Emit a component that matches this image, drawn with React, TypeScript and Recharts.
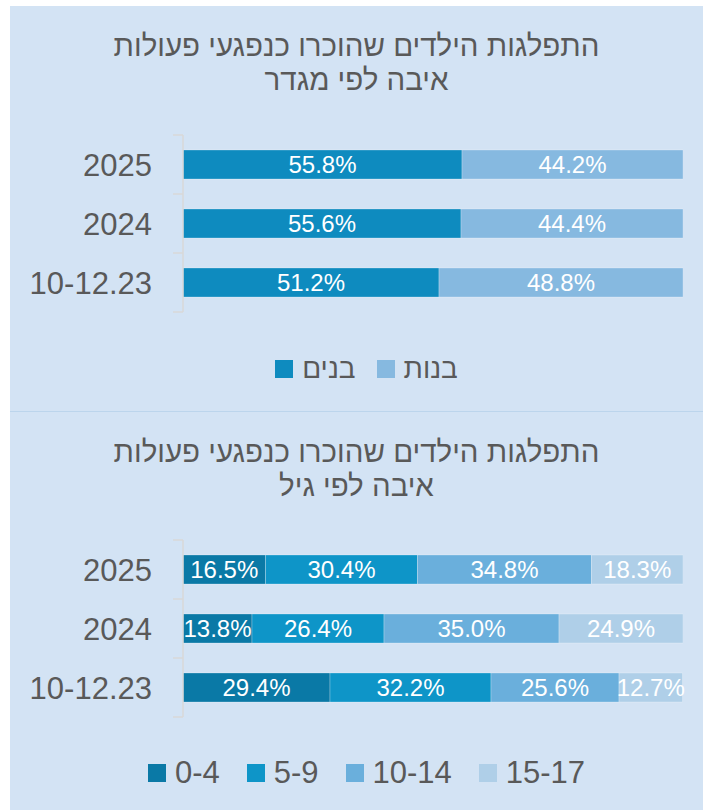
import React from 'react';
import { BarChart, Bar, XAxis, YAxis, LabelList } from 'recharts';

// ---------- Data ----------
const periods = ['2025', '2024', '10-12.23'];

const genderTitle = ['התפלגות הילדים שהוכרו כנפגעי פעולות', 'איבה לפי מגדר'];
const boysShare = [55.8, 55.6, 51.2];
const girlsShare = [44.2, 44.4, 48.8];
const genderNames = ['בנים', 'בנות'];

const ageTitle = ['התפלגות הילדים שהוכרו כנפגעי פעולות', 'איבה לפי גיל'];
const age0to4 = [16.5, 13.8, 29.4];
const age5to9 = [30.4, 26.4, 32.2];
const age10to14 = [34.8, 35.0, 25.6];
const age15to17 = [18.3, 24.9, 12.7];
const ageNames = ['0-4', '5-9', '10-14', '15-17'];

// ---------- Styles ----------
const FONT = '"Liberation Sans", Arial, sans-serif';
const BG = '#d3e3f4';
const TEXT = '#595959';
const AXIS = '#d9d9d9';
const TICK_SIZE = 10;
const TICK_MARGIN = 21;

const genderColors = ['#0e8bbf', '#86b9e0'];
const ageColors = ['#0a79a6', '#0e95c8', '#6aafdc', '#afcfe8'];

const genderData = periods.map((p, i) => ({ period: p, s0: boysShare[i], s1: girlsShare[i] }));
const ageData = periods.map((p, i) => ({
  period: p,
  s0: age0to4[i],
  s1: age5to9[i],
  s2: age10to14[i],
  s3: age15to17[i],
}));

const CategoryTick = (props: any) => {
  const { x, y, payload, index, visibleTicksCount } = props;
  const axisX = x + TICK_SIZE + TICK_MARGIN;
  const half = payload && typeof payload.offset === 'number' ? payload.offset : 0;
  return (
    <g>
      <line x1={axisX - TICK_SIZE} x2={axisX} y1={y - half} y2={y - half} stroke={AXIS} strokeWidth={1.5} />
      {index === visibleTicksCount - 1 && (
        <line x1={axisX - TICK_SIZE} x2={axisX} y1={y + half} y2={y + half} stroke={AXIS} strokeWidth={1.5} />
      )}
      <text x={x} y={y} dy="0.36em" textAnchor="end" fontSize={31} fontFamily={FONT} fill={TEXT}>
        {payload.value}
      </text>
    </g>
  );
};

const fmt = (v: any) => `${Number(v).toFixed(1)}%`;

type PanelProps = {
  title: string[];
  data: any[];
  names: string[];
  colors: string[];
  height: number;
  marginTop: number;
  titleTop: number;
  legendTop: number;
  legendShift: number;
  legendFont: number;
  legendGap: number;
};

const Panel = ({ title, data, names, colors, height, marginTop, titleTop, legendTop, legendShift, legendFont, legendGap }: PanelProps) => {
  const plotH = 177;
  return (
    <div style={{ position: 'relative', width: 693, height, background: BG }}>
      <div
        style={{
          position: 'absolute',
          top: titleTop,
          left: 0,
          width: 693,
          textAlign: 'center',
          fontFamily: FONT,
          fontSize: 29.5,
          lineHeight: '34px',
          color: TEXT,
          direction: 'rtl',
        }}
      >
        {title.map((t, i) => (
          <div key={i}>{t}</div>
        ))}
      </div>
      <div style={{ position: 'absolute', top: 0, left: 0 }}>
        <BarChart
          width={693}
          height={height}
          data={data}
          layout="vertical"
          barSize={29}
          margin={{ top: marginTop, right: 20, left: 0, bottom: height - marginTop - plotH }}
        >
          <XAxis type="number" hide domain={[0, 100]} allowDataOverflow />
          <YAxis
            type="category"
            dataKey="period"
            width={173}
            axisLine={{ stroke: AXIS, strokeWidth: 1.5 }}
            tickLine={false}
            tickSize={TICK_SIZE}
            tickMargin={TICK_MARGIN}
            tick={<CategoryTick />}
            interval={0}
          />
          {names.map((n, i) => (
            <Bar
              key={n}
              dataKey={`s${i}`}
              name={n}
              stackId="a"
              fill={colors[i]}
              stroke="rgba(255,255,255,0.25)"
              strokeWidth={1}
              isAnimationActive={false}
            >
              <LabelList
                dataKey={`s${i}`}
                position="center"
                formatter={fmt}
                fill="#ffffff"
                fontSize={24}
                fontFamily={FONT}
              />
            </Bar>
          ))}
        </BarChart>
      </div>
      <div
        style={{
          position: 'absolute',
          top: legendTop,
          left: legendShift,
          width: 693,
          display: 'flex',
          justifyContent: 'center',
          alignItems: 'center',
          fontFamily: FONT,
          fontSize: legendFont,
          color: TEXT,
          height: 36,
        }}
      >
        {names.map((n, i) => (
          <div key={n} style={{ display: 'flex', alignItems: 'center', marginRight: i < names.length - 1 ? legendGap : 0 }}>
            <div style={{ width: 18, height: 18, background: colors[i], marginRight: 9 }} />
            <span>{n}</span>
          </div>
        ))}
      </div>
    </div>
  );
};

export default function App() {
  return (
    <div style={{ position: 'absolute', left: 10, top: 6, width: 693 }}>
      <Panel
        title={genderTitle}
        data={genderData}
        names={genderNames}
        colors={genderColors}
        height={405}
        marginTop={129}
        titleTop={23}
        legendTop={345}
        legendShift={10}
        legendFont={28}
        legendGap={21}
      />
      <div style={{ height: 1, background: '#bcd5ec', width: 693 }} />
      <Panel
        title={ageTitle}
        data={ageData}
        names={ageNames}
        colors={ageColors}
        height={398}
        marginTop={128}
        titleTop={23}
        legendTop={343}
        legendShift={10}
        legendFont={31}
        legendGap={27}
      />
    </div>
  );
}
